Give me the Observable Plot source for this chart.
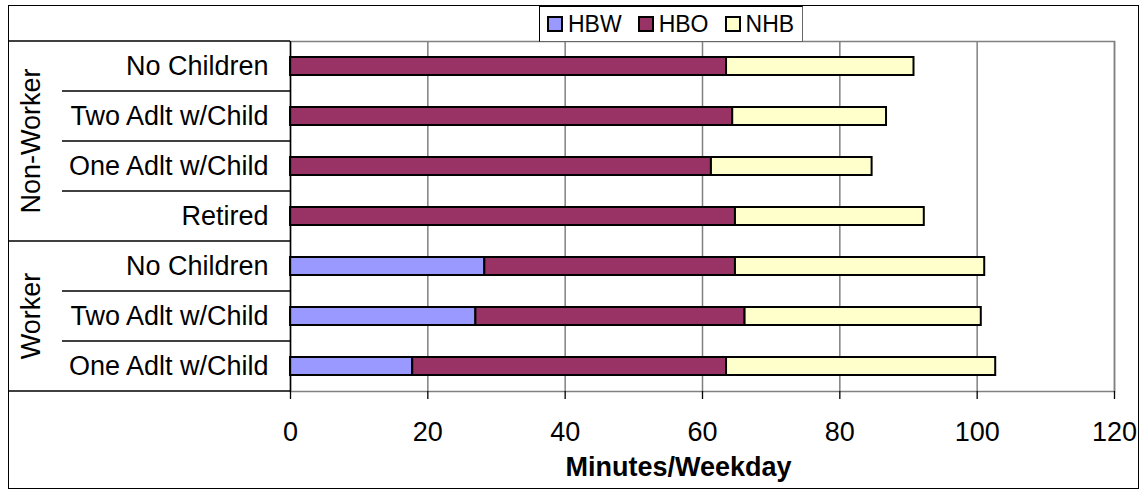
<!DOCTYPE html>
<html>
<head>
<meta charset="utf-8">
<script src="https://cdn.jsdelivr.net/npm/d3@7"></script>
<script src="https://cdn.jsdelivr.net/npm/@observablehq/plot@0.6"></script>
<style>
  html, body { margin: 0; padding: 0; background: #fff; }
  #wrap { position: relative; width: 1140px; height: 491px; font-family: "Liberation Sans", Arial, sans-serif; }
  #legendRow { position: relative; height: 40px; }
  #lbox { position: absolute; left: 539px; top: 6px; width: 264px; height: 36px; box-sizing: border-box;
          border: 1px solid #000; border-right-color: #666; border-bottom-color: #666; background: #fff;
          display: flex; align-items: center; padding-left: 7px; z-index: 2; }
  .item { display: flex; align-items: center; margin-right: 16px; font-size: 23px; color: #000; }
  .sw { width: 16px; height: 16px; box-sizing: border-box; border: 2px solid #000; margin-right: 5px; }
  #outer { position: absolute; left: 8px; top: 5px; width: 1131px; height: 484px; box-sizing: border-box;
           border: 1.5px solid #000; pointer-events: none; z-index: 3; }
</style>
</head>
<body>
<div id="wrap">
  <div id="legendRow"><div id="lbox"></div></div>
  <div id="chart"></div>
  <div id="outer"></div>
</div>
<script>
// ---- data ----
const groups = ["Non-Worker", "Non-Worker", "Non-Worker", "Non-Worker", "Worker", "Worker", "Worker"];
const categories = ["No Children", "Two Adlt w/Child", "One Adlt w/Child", "Retired", "No Children", "Two Adlt w/Child", "One Adlt w/Child"];
const hbw = [0, 0, 0, 0, 28.3, 27.0, 17.8];
const hbo = [63.5, 64.4, 61.3, 64.8, 36.5, 39.2, 45.7];
const nhb = [27.3, 22.4, 23.4, 27.5, 36.3, 34.4, 39.2];
const purposes = ["HBW", "HBO", "NHB"];
const colors = ["#9999FF", "#993366", "#FFFFCC"];
const xTicks = [0, 20, 40, 60, 80, 100, 120];
const axisTitle = "Minutes/Weekday";

// ---- derived ----
const keys = categories.map((c, i) => `${groups[i]}|${c}`);
const series = [hbw, hbo, nhb];
const table = [];
keys.forEach((k, i) => purposes.forEach((p, j) => {
  if (series[j][i] > 0) table.push({key: k, purpose: p, value: series[j][i]});
}));
const groupNames = [...new Set(groups)];

// ---- legend ----
const lbox = document.getElementById("lbox");
purposes.forEach((p, i) => {
  const it = document.createElement("div");
  it.className = "item";
  const sw = document.createElement("div");
  sw.className = "sw";
  sw.style.background = colors[i];
  const t = document.createElement("span");
  t.textContent = p;
  it.appendChild(sw); it.appendChild(t);
  lbox.appendChild(it);
});

const PAD_IN = 0.64, PAD_OUT = 0.32;

// label table at the left: separators and rotated group labels, positioned by the y scale
function labelTable(index, scales, values, dims) {
  const y = scales.y;
  const s = y(keys[1]) - y(keys[0]);
  const bw = s * (1 - PAD_IN);
  const gap = s * PAD_IN / 2;
  const left = dims.marginLeft;
  const g = d3.create("svg:g");
  const line = (x1, yy) => g.append("line")
    .attr("x1", x1).attr("x2", left).attr("y1", yy).attr("y2", yy)
    .attr("stroke", "#000").attr("stroke-width", 1.5);
  line(8, dims.marginTop);
  line(8, dims.height - dims.marginBottom);
  for (let i = 1; i < keys.length; i++) {
    line(groups[i] !== groups[i - 1] ? 8 : 62, y(keys[i]) - gap);
  }
  groupNames.forEach(name => {
    const idx = groups.map((d, i) => d === name ? i : -1).filter(i => i >= 0);
    const cy = (y(keys[idx[0]]) + y(keys[idx[idx.length - 1]]) + bw) / 2;
    g.append("text")
      .attr("transform", `translate(31,${cy}) rotate(-90)`)
      .attr("text-anchor", "middle")
      .attr("dominant-baseline", "central")
      .attr("font-size", 27)
      .attr("fill", "#000")
      .text(name);
  });
  return g.node();
}

const plot = Plot.plot({
  width: 1140,
  height: 451,
  marginLeft: 290,
  marginRight: 26,
  marginTop: 1,
  marginBottom: 100,
  style: {fontFamily: '"Liberation Sans", Arial, sans-serif', fontSize: "27px", color: "#000", background: "transparent"},
  x: {domain: [0, 120], ticks: xTicks},
  y: {domain: keys, paddingInner: PAD_IN, paddingOuter: PAD_OUT, align: 0.5},
  color: {domain: purposes, range: colors},
  marks: [
    Plot.gridX(xTicks, {stroke: "#808080", strokeOpacity: 1, strokeWidth: 1.5}),
    Plot.frame({stroke: "#808080", strokeWidth: 1.5}),
    Plot.barX(table, {y: "key", x: "value", fill: "purpose", stroke: "#000", strokeWidth: 2}),
    Plot.ruleX([0], {stroke: "#000", strokeWidth: 1.3}),
    Plot.axisX({ticks: xTicks, tickSize: 8, tickPadding: 22, fontSize: 27, label: null, strokeWidth: 1.3}),
    Plot.axisY({tickSize: 0, tickPadding: 22, tickFormat: k => k.split("|")[1], fontSize: 27, label: null}),
    labelTable,
    Plot.text([axisTitle], {frameAnchor: "bottom", dx: -24, dy: 76, lineAnchor: "middle",
      fontWeight: "bold", fontSize: 27})
  ]
});
document.getElementById("chart").appendChild(plot);
</script>
</body>
</html>
